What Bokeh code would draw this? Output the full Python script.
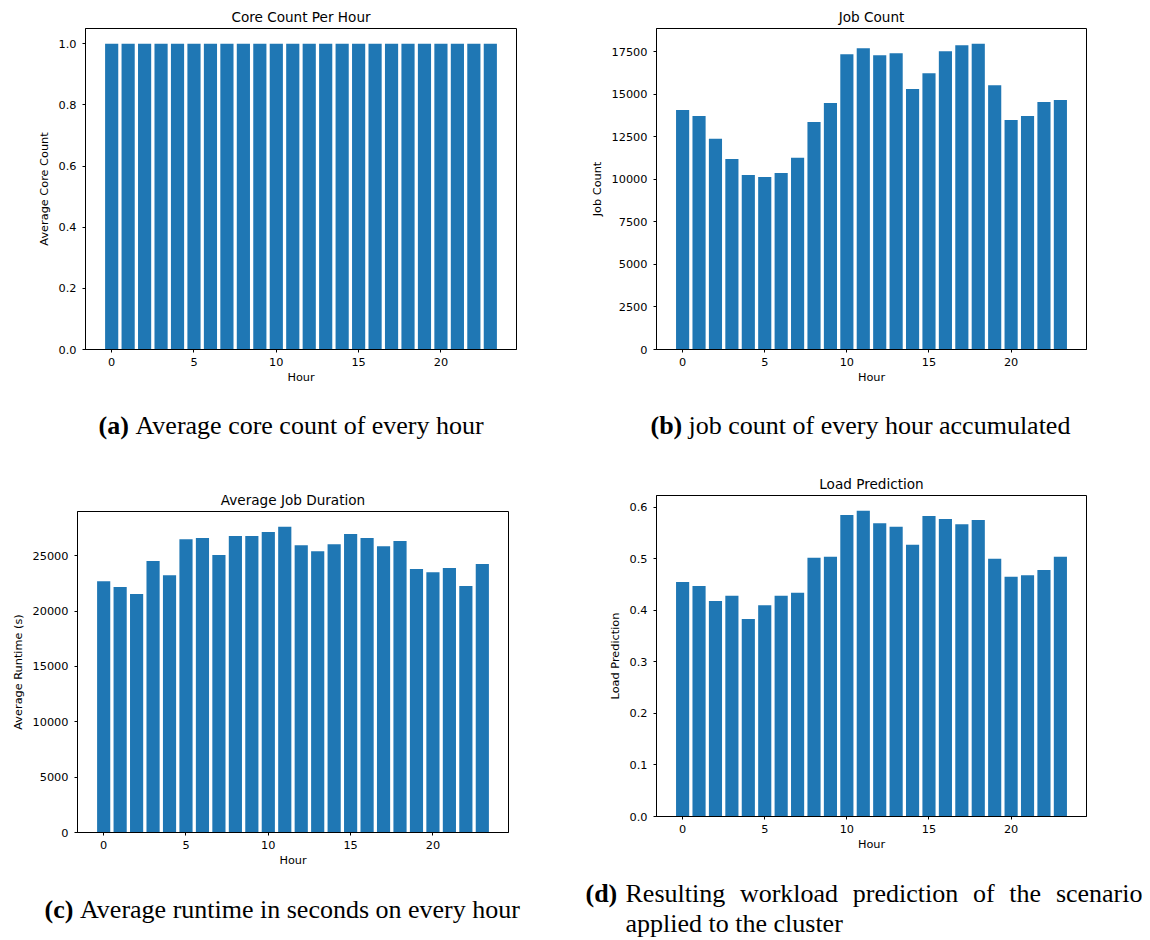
from bokeh.plotting import figure
from bokeh.layouts import column, row
from bokeh.models import Range1d, FixedTicker, PrintfTickFormatter, Label, Spacer
from bokeh.embed import file_html
from bokeh.resources import INLINE

# ---------------- data ----------------
hours = list(range(24))
x_ticks = [0, 5, 10, 15, 20]

core_count = [1.0, 1.0, 1.0, 1.0, 1.0, 1.0, 1.0, 1.0, 1.0, 1.0, 1.0, 1.0,
              1.0, 1.0, 1.0, 1.0, 1.0, 1.0, 1.0, 1.0, 1.0, 1.0, 1.0, 1.0]
job_count = [14080, 13725, 12395, 11200, 10265, 10145, 10380, 11280,
             13370, 14490, 17360, 17710, 17300, 17420, 15310, 16245,
             17535, 17890, 17975, 15540, 13490, 13725, 14545, 14665]
avg_runtime = [22710, 22170, 21540, 24520, 23250, 26500, 26600, 25060,
               26780, 26780, 27140, 27620, 25960, 25420, 26050, 26960,
               26600, 25870, 26330, 23800, 23520, 23890, 22260, 24250]
load_pred = [0.455, 0.447, 0.418, 0.428, 0.383, 0.410, 0.428, 0.434,
             0.502, 0.504, 0.585, 0.593, 0.569, 0.562, 0.527, 0.583,
             0.577, 0.567, 0.575, 0.500, 0.465, 0.468, 0.478, 0.504]

core_ticks = [0.0, 0.2, 0.4, 0.6, 0.8, 1.0]
job_ticks = [0, 2500, 5000, 7500, 10000, 12500, 15000, 17500]
runtime_ticks = [0, 5000, 10000, 15000, 20000, 25000]
load_ticks = [0.0, 0.1, 0.2, 0.3, 0.4, 0.5, 0.6]

BAR_W = 0.8
BLUE = "#1f77b4"
SANS = "DejaVu Sans"
SERIF = "Liberation Serif"


def panel(title, ylabel, values, yticks, fmt, width, height, bl, br, bt, bb):
    lo = min(hours) - BAR_W / 2
    hi = max(hours) + BAR_W / 2
    pad = 0.05 * (hi - lo)
    p = figure(width=width, height=height,
               x_range=Range1d(lo - pad, hi + pad),
               y_range=Range1d(0, max(values) * 1.05),
               min_border_left=bl, min_border_right=br,
               min_border_top=bt, min_border_bottom=bb,
               toolbar_location=None, output_backend="svg",
               title=title)
    p.vbar(x=hours, top=values, width=BAR_W, fill_color=BLUE, line_color=None)
    p.grid.visible = False
    p.outline_line_color = "black"
    p.outline_line_width = 1
    p.outline_line_alpha = 1
    p.background_fill_color = "white"
    p.border_fill_color = "white"

    p.title.align = "center"
    p.title.text_font = SANS
    p.title.text_font_size = "13.6px"
    p.title.text_font_style = "normal"
    p.title.text_color = "black"
    p.title.standoff = 8

    p.xaxis.ticker = FixedTicker(ticks=x_ticks)
    p.yaxis.ticker = FixedTicker(ticks=yticks)
    p.yaxis.formatter = PrintfTickFormatter(format=fmt)
    p.xaxis.axis_label = "Hour"
    p.yaxis.axis_label = ylabel
    for ax in (p.xaxis, p.yaxis):
        ax.axis_line_color = "black"
        ax.axis_line_width = 1
        ax.major_tick_line_color = "black"
        ax.major_tick_in = 0
        ax.major_tick_out = 3
        ax.minor_tick_line_color = None
        ax.major_label_text_font = SANS
        ax.major_label_text_font_size = "11.3px"
        ax.major_label_text_color = "black"
        ax.axis_label_text_font = SANS
        ax.axis_label_text_font_size = "11.3px"
        ax.axis_label_text_font_style = "normal"
        ax.axis_label_text_color = "black"
    p.xaxis.major_label_standoff = 5
    p.xaxis.axis_label_standoff = 2
    p.yaxis.major_label_standoff = 6
    p.yaxis.axis_label_standoff = 5
    return p


def caption_fig(width, height):
    c = figure(width=width, height=height,
               x_range=Range1d(0, width), y_range=Range1d(0, height),
               min_border=0, toolbar_location=None, output_backend="svg",
               x_axis_location=None, y_axis_location=None)
    c.grid.visible = False
    c.outline_line_color = None
    c.background_fill_color = "white"
    c.border_fill_color = "white"
    return c


def cap(c, x, y, text, bold=False, align="left"):
    c.add_layout(Label(x=x, y=y, text=text, text_font=SERIF,
                       text_font_size="26px",
                       text_font_style="bold" if bold else "normal",
                       text_color="black", text_align=align,
                       text_baseline="middle"))


pa = panel("Core Count Per Hour", "Average Core Count", core_count, core_ticks,
           "%.1f", 579, 395, 85, 63, 28, 46)
pb = panel("Job Count", "Job Count", job_count, job_ticks,
           "%d", 569, 395, 77, 62, 28, 46)
# row 2: identical vertical borders, left panel pushed down by a spacer
pc = panel("Average Job Duration", "Average Runtime (s)", avg_runtime, runtime_ticks,
           "%d", 579, 396, 77, 71, 35, 40)
pd = panel("Load Prediction", "Load Prediction", load_pred, load_ticks,
           "%.1f", 569, 396, 77, 62, 35, 40)

# captions, row 1 (page y 395..460)
c1 = caption_fig(1148, 65)
cap(c1, 98, 35, "(a)", bold=True)
cap(c1, 135, 35, "Average core count of every hour")
cap(c1, 650, 35, "(b)", bold=True)
cap(c1, 688, 35, "job count of every hour accumulated")

# captions, row 2 (page y 872..940)
c2 = caption_fig(1148, 68)
cap(c2, 44, 31, "(c)", bold=True)
cap(c2, 79.5, 31, "Average runtime in seconds on every hour")
cap(c2, 585, 47, "(d)", bold=True)
for wx, word in [(625, "Resulting"), (739.4, "workload"), (852.3, "prediction"),
                 (972.4, "of"), (1008.8, "the")]:
    cap(c2, wx, 47, word)
cap(c2, 1142, 47, "scenario", align="right")
cap(c2, 625, 17, "applied to the cluster")

row2 = row(column(Spacer(width=579, height=16), pc),
           column(pd, Spacer(width=569, height=16)))
layout = column(row(pa, pb), c1, row2, c2)

open("out.html", "w").write(file_html(layout, INLINE))
